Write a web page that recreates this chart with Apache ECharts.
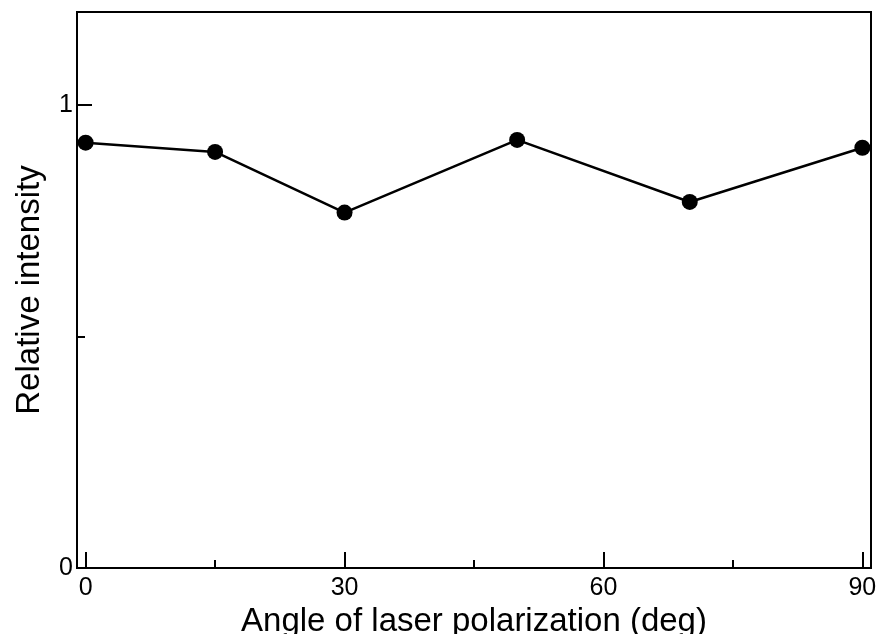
<!DOCTYPE html>
<html>
<head>
<meta charset="utf-8">
<style>
  html, body { margin: 0; padding: 0; background: #fff; }
  #chart { width: 880px; height: 634px; }
</style>
<script src="https://cdn.jsdelivr.net/npm/echarts@6/dist/echarts.min.js"></script>
</head>
<body>
<div id="chart"></div>
<script>
// data
const angles = [0, 15, 30, 50, 70, 90]
const intensity = [0.918, 0.898, 0.767, 0.924, 0.790, 0.907]

const xMajor = [0, 30, 60, 90]
const xMinor = [15, 45, 75]
const yMajor = [0, 1]
const yMinor = [0.5]

const FONT = 'Liberation Sans, Arial, sans-serif'
const INK = '#000'

const chart = echarts.init(document.getElementById('chart'), null, { renderer: 'canvas' })

const tickFont = { color: INK, fontSize: 25, fontFamily: FONT }
const nameFont = { color: INK, fontSize: 33, fontFamily: FONT }
const tickLine = { color: INK, width: 2 }

chart.setOption({
  animation: false,
  grid: {
    left: 77, right: 9, top: 12, bottom: 66,
    outerBoundsMode: 'none', containLabel: false,
    show: true, borderColor: INK, borderWidth: 2, backgroundColor: 'transparent',
  },
  xAxis: [
    {
      type: 'value', min: -1, max: 91,
      name: 'Angle of laser polarization (deg)',
      nameLocation: 'middle', nameGap: 36, nameTextStyle: nameFont,
      axisLine: { show: true, onZero: false, lineStyle: { color: INK, width: 2 } },
      axisTick: { show: true, inside: true, length: 16, customValues: xMajor, lineStyle: tickLine },
      axisLabel: { show: true, margin: 8, customValues: xMajor, ...tickFont },
      splitLine: { show: false },
    },
    {
      type: 'value', min: -1, max: 91, position: 'bottom',
      axisLine: { show: false, onZero: false },
      axisTick: { show: true, inside: true, length: 8, customValues: xMinor, lineStyle: tickLine },
      axisLabel: { show: false },
      splitLine: { show: false },
    },
  ],
  yAxis: [
    {
      type: 'value', min: 0, max: 1.2,
      name: 'Relative intensity',
      nameLocation: 'middle', nameGap: 31, nameTextStyle: nameFont,
      axisLine: { show: true, onZero: false, lineStyle: { color: INK, width: 2 } },
      axisTick: { show: true, inside: true, length: 15, customValues: yMajor, lineStyle: tickLine },
      axisLabel: { show: true, margin: 4, customValues: yMajor, ...tickFont },
      splitLine: { show: false },
    },
    {
      type: 'value', min: 0, max: 1.2, position: 'left',
      axisLine: { show: false, onZero: false },
      axisTick: { show: true, inside: true, length: 8, customValues: yMinor, lineStyle: tickLine },
      axisLabel: { show: false },
      splitLine: { show: false },
    },
  ],
  series: [{
    type: 'line',
    data: angles.map((a, i) => [a, intensity[i]]),
    symbol: 'circle',
    symbolSize: 16,
    showSymbol: true,
    lineStyle: { color: INK, width: 2.5 },
    itemStyle: { color: INK },
  }],
})
</script>
</body>
</html>
